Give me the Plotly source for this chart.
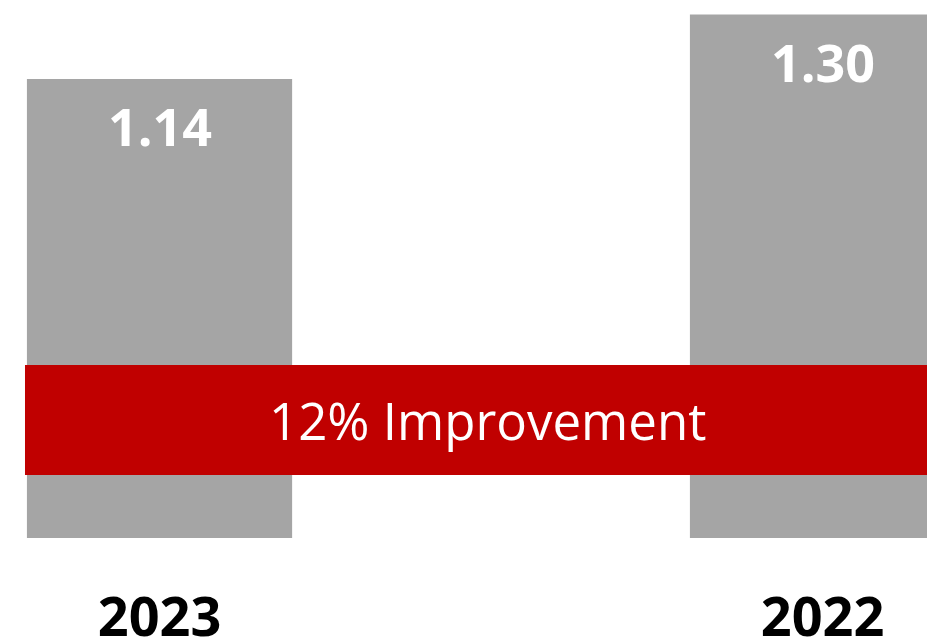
import plotly.graph_objects as go

years = ["2023", "2022"]
values = [1.14, 1.30]
value_labels = ["1.14", "1.30"]
band_text = "12% Improvement"
band_low = 0.1565
band_high = 0.4297

GREY = "#A5A5A5"
RED = "#C00000"
FONT = "Open Sans"

W, H = 927, 643

fig = go.Figure()
fig.add_trace(go.Bar(
    x=[0, 1], y=values, width=0.4,
    marker=dict(color=GREY, line=dict(width=0)),
    hoverinfo="skip", showlegend=False,
))

for i, (v, lab) in enumerate(zip(values, value_labels)):
    fig.add_annotation(
        x=i, y=v, xref="x", yref="y", text=lab, showarrow=False,
        yanchor="top", yshift=-9,
        font=dict(family=FONT, size=52, color="white", weight="bold"),
    )

fig.add_shape(
    type="rect", xref="x", yref="y",
    x0=-0.2029, x1=1.35, y0=band_low, y1=band_high,
    fillcolor=RED, line=dict(width=0), layer="above",
)
fig.add_annotation(
    x=487 / W, xref="paper", y=(band_low + band_high) / 2, yref="y",
    text=band_text, showarrow=False, xanchor="center", yanchor="middle",
    font=dict(family=FONT, size=51, color="white"),
)

fig.update_layout(
    width=W, height=H,
    margin=dict(l=0, r=0, t=0, b=105, autoexpand=False),
    paper_bgcolor="white", plot_bgcolor="white",
    xaxis=dict(
        range=[-0.2406, 1.1576], tickmode="array", tickvals=[0, 1], ticktext=years,
        showgrid=False, zeroline=False, showline=False, ticks="",
        tickfont=dict(family=FONT, size=54, color="black", weight="bold"),
        ticklabelstandoff=43, automargin=False,
    ),
    yaxis=dict(range=[0, 1.3363], visible=False, automargin=False),
)

fig.write_html(
    "out.html",
    config={"displayModeBar": False},
    post_script="document.body.style.margin='0px';document.body.style.overflow='hidden';",
)
